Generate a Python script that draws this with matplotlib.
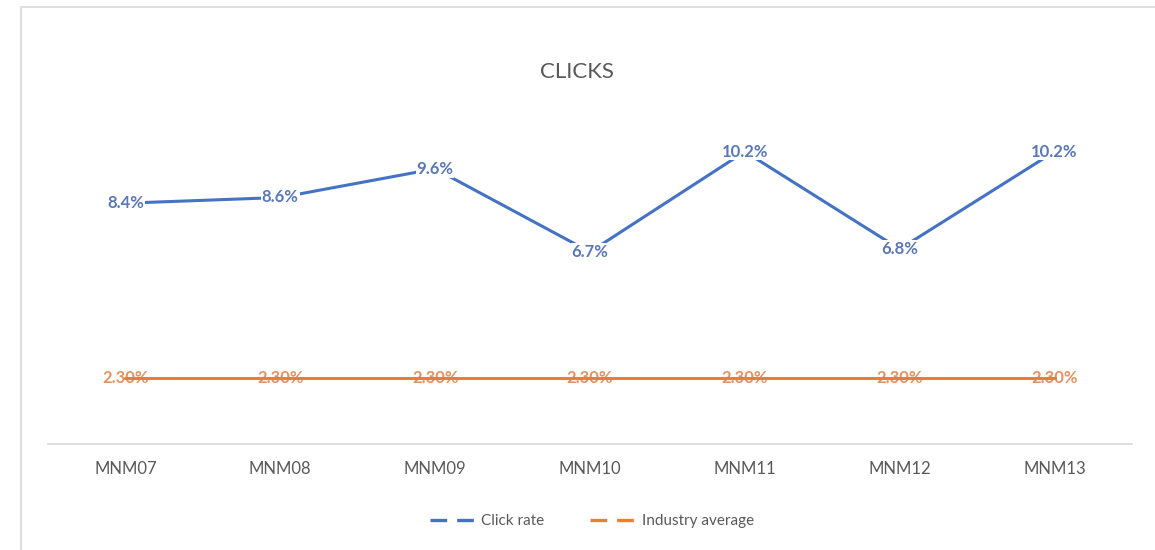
import matplotlib.pyplot as plt
from matplotlib.patches import Rectangle

plt.rcParams['font.family'] = ['Lato', 'DejaVu Sans']

months = ['MNM07', 'MNM08', 'MNM09', 'MNM10', 'MNM11', 'MNM12', 'MNM13']
click_rate = [8.4, 8.6, 9.6, 6.7, 10.2, 6.8, 10.2]
industry_avg = [2.3, 2.3, 2.3, 2.3, 2.3, 2.3, 2.3]

blue = '#4472C4'
orange = '#ED7D31'
grey = '#595959'

fig = plt.figure(figsize=(11.55, 5.5), dpi=100)
ax = fig.add_axes([48/1155, 106/550, 1084/1155, 344/550])

x = range(len(months))
ax.plot(x, click_rate, color=blue, lw=2.2, solid_capstyle='round', zorder=2)
ax.plot(x, industry_avg, color=orange, lw=2.2, solid_capstyle='round', zorder=2)

for i, v in enumerate(click_rate):
    ax.text(i, v, f'{v:.1f}%', ha='center', va='center', fontsize=12,
            color='#5a78b8', fontweight='bold', zorder=3,
            bbox=dict(boxstyle='square,pad=0.05', fc='white', ec='none'))
for i, v in enumerate(industry_avg):
    ax.text(i, v, f'{v:.2f}%', ha='center', va='center', fontsize=12,
            color='#e07f45', fontweight='bold', alpha=0.85, zorder=3)

ax.set_xlim(-0.5, len(months) - 0.5)
ax.set_ylim(0, 12)
ax.set_xticks(list(x))
ax.set_xticklabels(months, fontsize=12, color=grey)
ax.tick_params(axis='x', length=0, pad=12)
ax.set_yticks([])
for s in ['top', 'right', 'left']:
    ax.spines[s].set_visible(False)
ax.spines['bottom'].set_color('#d9d9d9')
ax.spines['bottom'].set_linewidth(1.2)

fig.text(577/1155, 1 - 72/550, 'CLICKS', ha='center', va='center',
         fontsize=16, color=grey)

h1, = ax.plot([], [], color=blue, lw=2.4, ls=(0, (5, 3)))
h2, = ax.plot([], [], color=orange, lw=2.4, ls=(0, (5, 3)))
fig.legend([h1, h2], ['Click rate', 'Industry average'], loc='center',
           bbox_to_anchor=(592/1155, 1 - 521/550), ncol=2, frameon=False,
           fontsize=11, labelcolor=grey, handlelength=3.2, handletextpad=0.2,
           columnspacing=3.0)

fig.patches.append(Rectangle((21/1155, -0.05), 1.1, 1 - 7/550 + 0.05,
                             transform=fig.transFigure, fill=False,
                             ec='#d9d9d9', lw=1.2, zorder=0))

fig.savefig('out.png', dpi=100)
